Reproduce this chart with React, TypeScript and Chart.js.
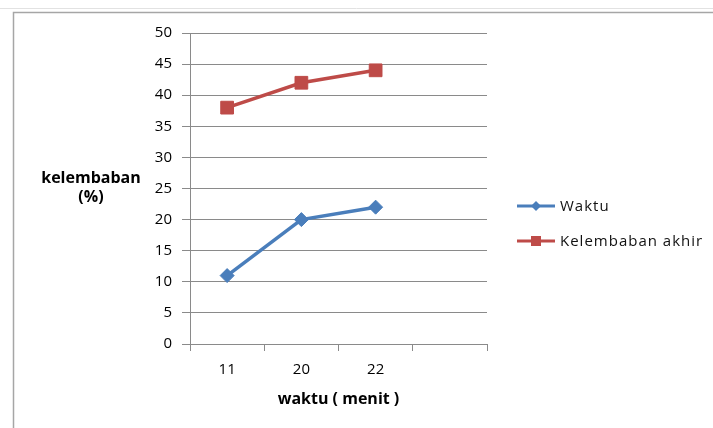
import React, { useEffect, useRef } from "react";
import { Chart, registerables } from "chart.js";

Chart.register(...registerables);

const categories = ["11", "20", "22", ""];
const waktu = [11, 20, 22, null];
const kelembabanAkhir = [38, 42, 44, null];
const seriesNames = ["Waktu", "Kelembaban akhir"];
const yTitle = ["kelembaban", "(%)"];
const xTitle = "waktu ( menit )";

const BLUE = "#4A7EBB";
const RED = "#BE4B48";
const GRID = "#8a8a8a";
const FONT = "'Open Sans', 'Noto Sans', sans-serif";

const decorPlugin = {
  id: "decor",
  beforeDraw(chart: any) {
    const ctx = chart.ctx;
    ctx.save();
    ctx.fillStyle = "#ffffff";
    ctx.fillRect(0, 0, chart.width, chart.height);
    // spreadsheet grid line
    ctx.strokeStyle = "#e2e2e2";
    ctx.lineWidth = 1;
    ctx.beginPath();
    ctx.moveTo(0, 8.5);
    ctx.lineTo(chart.width, 8.5);
    ctx.stroke();
    // chart frame
    ctx.strokeStyle = "#a6a6a6";
    ctx.lineWidth = 1.5;
    ctx.beginPath();
    ctx.moveTo(13.5, chart.height + 2);
    ctx.lineTo(13.5, 12.5);
    ctx.lineTo(chart.width + 2, 12.5);
    ctx.stroke();
    ctx.restore();
  },
  afterDraw(chart: any) {
    const ctx = chart.ctx;
    const area = chart.chartArea;
    ctx.save();
    ctx.fillStyle = "#000000";
    ctx.font = `bold 16px ${FONT}`;
    ctx.textAlign = "center";
    ctx.textBaseline = "middle";
    ctx.fillText(yTitle[0], 91, 178);
    ctx.fillText(yTitle[1], 91, 197);
    ctx.fillText(xTitle, (area.left + area.right) / 2, 399);

    // legend
    const items = [
      { name: seriesNames[0], color: BLUE, style: "diamond", y: 206 },
      { name: seriesNames[1], color: RED, style: "square", y: 241 },
    ];
    ctx.font = `15px ${FONT}`;
    (ctx as any).letterSpacing = "1px";
    ctx.textAlign = "left";
    for (const it of items) {
      ctx.strokeStyle = it.color;
      ctx.lineWidth = 3;
      ctx.beginPath();
      ctx.moveTo(517, it.y);
      ctx.lineTo(555, it.y);
      ctx.stroke();
      ctx.fillStyle = it.color;
      const cx = 536;
      if (it.style === "diamond") {
        ctx.beginPath();
        ctx.moveTo(cx, it.y - 5);
        ctx.lineTo(cx + 5, it.y);
        ctx.lineTo(cx, it.y + 5);
        ctx.lineTo(cx - 5, it.y);
        ctx.closePath();
        ctx.fill();
      } else {
        ctx.fillRect(cx - 5, it.y - 5, 10, 10);
      }
      ctx.fillStyle = "#111111";
      ctx.fillText(it.name, 560, it.y + 1);
    }
    ctx.restore();
  },
};

export default function App() {
  const canvasRef = useRef<HTMLCanvasElement | null>(null);

  useEffect(() => {
    if (!canvasRef.current) return;
    const chart = new Chart(canvasRef.current, {
      type: "line",
      data: {
        labels: categories,
        datasets: [
          {
            label: seriesNames[0],
            data: waktu,
            borderColor: BLUE,
            backgroundColor: BLUE,
            borderWidth: 3.5,
            pointStyle: "rectRot",
            pointRadius: 7,
            pointBorderWidth: 1,
            pointBackgroundColor: BLUE,
            pointBorderColor: BLUE,
            tension: 0,
          },
          {
            label: seriesNames[1],
            data: kelembabanAkhir,
            borderColor: RED,
            backgroundColor: RED,
            borderWidth: 3.5,
            pointStyle: "rect",
            pointRadius: 9,
            pointBorderWidth: 1,
            pointBackgroundColor: RED,
            pointBorderColor: RED,
            tension: 0,
          },
        ],
      },
      options: {
        animation: false,
        responsive: true,
        maintainAspectRatio: false,
        layout: { padding: { left: 100, top: 33, right: 226, bottom: 0 } },
        plugins: {
          legend: { display: false },
          tooltip: { enabled: false },
        },
        scales: {
          x: {
            offset: true,
            afterFit: (s: any) => {
              s.height = 84;
            },
            grid: {
              offset: true,
              drawOnChartArea: false,
              drawTicks: true,
              tickLength: 7,
              color: GRID,
              lineWidth: 1,
            },
            border: { display: true, color: GRID, width: 1 },
            ticks: {
              color: "#000000",
              font: { family: FONT, size: 15 },
              padding: 10,
              maxRotation: 0,
              autoSkip: false,
            },
          },
          y: {
            min: 0,
            max: 50,
            afterFit: (s: any) => {
              s.width = 90;
            },
            grid: {
              color: GRID,
              lineWidth: 1,
              drawTicks: true,
              tickLength: 8,
            },
            border: { display: true, color: GRID, width: 1 },
            ticks: {
              stepSize: 5,
              color: "#000000",
              font: { family: FONT, size: 15 },
              padding: 10,
            },
          },
        },
      },
      plugins: [decorPlugin],
    });
    return () => chart.destroy();
  }, []);

  return (
    <div style={{ position: "absolute", left: 0, top: 0, width: 713, height: 428 }}>
      <canvas ref={canvasRef} />
    </div>
  );
}
